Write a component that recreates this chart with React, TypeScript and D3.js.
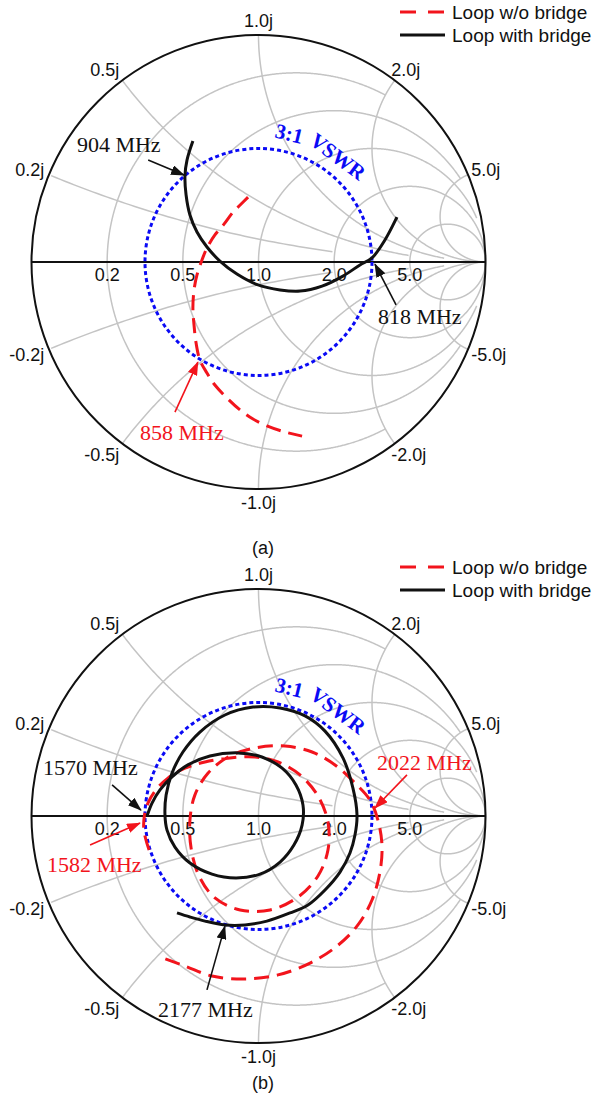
import React from "react";
import * as d3 from "d3";

type Pt = [number, number];

// Smith grid values and where each circle / arc stops
const gridValues = [0.2, 0.5, 1, 2, 5];
const gridLimits = [2, 5, 10, Infinity, Infinity];
const realLabels = ["0.2", "0.5", "1.0", "2.0", "5.0"];
const posImagLabels = ["0.2j", "0.5j", "1.0j", "2.0j", "5.0j"];
const negImagLabels = ["-0.2j", "-0.5j", "-1.0j", "-2.0j", "-5.0j"];
const legendNames = ["Loop w/o bridge", "Loop with bridge"];
const vswr = 3;
const vswrWords = [`${vswr}:1`, "VSWR"];

// traces as reflection coefficient [re, im]
const noBridgeA: Pt[] = [
  [-0.046, 0.286], [-0.081, 0.251], [-0.112, 0.22], [-0.152, 0.167], [-0.192, 0.119],
  [-0.227, 0.062], [-0.249, 0.009], [-0.271, -0.057], [-0.284, -0.123], [-0.289, -0.203],
  [-0.284, -0.278], [-0.275, -0.357], [-0.258, -0.432], [-0.227, -0.489], [-0.192, -0.542],
  [-0.139, -0.599], [-0.081, -0.652], [-0.024, -0.692], [0.037, -0.722], [0.117, -0.749],
  [0.192, -0.767],
];
const bridgeA: Pt[] = [
  [-0.289, 0.533], [-0.315, 0.449], [-0.324, 0.379], [-0.319, 0.295], [-0.302, 0.207],
  [-0.271, 0.132], [-0.227, 0.066], [-0.17, 0.004], [-0.095, -0.053], [-0.002, -0.101],
  [0.095, -0.123], [0.183, -0.128], [0.28, -0.106], [0.372, -0.062], [0.447, -0.013],
  [0.5, 0.018], [0.557, 0.097], [0.61, 0.198],
];
const noBridgeB: Pt[] = [
  [-0.482, -0.15], [-0.504, -0.07], [-0.504, -0.009], [-0.487, 0.057], [-0.452, 0.115],
  [-0.399, 0.167], [-0.324, 0.211], [-0.236, 0.238], [-0.126, 0.256], [-0.015, 0.26],
  [0.086, 0.238], [0.183, 0.181], [0.262, 0.088], [0.306, -0.026], [0.306, -0.15],
  [0.262, -0.264], [0.174, -0.357], [0.051, -0.414], [-0.081, -0.414], [-0.192, -0.361],
  [-0.262, -0.264], [-0.297, -0.141], [-0.302, -0.018], [-0.28, 0.093], [-0.222, 0.189],
  [-0.134, 0.26], [-0.015, 0.3], [0.117, 0.308], [0.236, 0.282], [0.337, 0.225],
  [0.425, 0.145], [0.491, 0.07], [0.526, -0.018], [0.544, -0.128], [0.535, -0.247],
  [0.5, -0.37], [0.438, -0.48], [0.346, -0.573], [0.227, -0.648], [0.086, -0.7],
  [-0.059, -0.718], [-0.205, -0.705], [-0.324, -0.661], [-0.434, -0.621],
];
const bridgeB: Pt[] = [
  [-0.491, 0], [-0.469, 0.057], [-0.434, 0.115], [-0.381, 0.172], [-0.311, 0.225],
  [-0.214, 0.264], [-0.09, 0.278], [0.015, 0.26], [0.104, 0.211], [0.165, 0.137],
  [0.196, 0.048], [0.192, -0.04], [0.156, -0.128], [0.095, -0.203], [0.007, -0.256],
  [-0.099, -0.273], [-0.205, -0.256], [-0.302, -0.207], [-0.368, -0.137], [-0.403, -0.062],
  [-0.412, 0.004], [-0.407, 0.093], [-0.381, 0.189], [-0.333, 0.282], [-0.258, 0.37],
  [-0.148, 0.445], [-0.024, 0.48], [0.095, 0.476], [0.205, 0.441], [0.293, 0.374],
  [0.372, 0.256], [0.416, 0.123], [0.434, 0.004], [0.425, -0.084], [0.403, -0.163],
  [0.359, -0.247], [0.293, -0.326], [0.218, -0.392], [0.139, -0.427], [0.037, -0.463],
  [-0.059, -0.48], [-0.148, -0.48], [-0.236, -0.463], [-0.302, -0.445], [-0.359, -0.427],
];

const RED = "#f2141c";
const BLUE = "#0a0af5";

type Marker = { label: string; color: string; text: Pt; from: Pt; tip: Pt };

const markersA: Marker[] = [
  { label: "904 MHz", color: "#111", text: [-0.8, 0.485], from: [-0.486, 0.449], tip: [-0.328, 0.383] },
  { label: "818 MHz", color: "#111", text: [0.526, -0.273], from: [0.606, -0.189], tip: [0.513, -0.009] },
  { label: "858 MHz", color: RED, text: [-0.522, -0.784], from: [-0.368, -0.661], tip: [-0.267, -0.441] },
];
const markersB: Marker[] = [
  { label: "1570 MHz", color: "#111", text: [-0.949, 0.181], from: [-0.645, 0.137], tip: [-0.518, 0.026] },
  { label: "1582 MHz", color: RED, text: [-0.932, -0.247], from: [-0.742, -0.128], tip: [-0.522, -0.031] },
  { label: "2022 MHz", color: RED, text: [0.522, 0.203], from: [0.654, 0.181], tip: [0.513, 0.035] },
  { label: "2177 MHz", color: "#111", text: [-0.443, -0.885], from: [-0.227, -0.766], tip: [-0.148, -0.485] },
];

const SANS = "'Liberation Sans', Arial, sans-serif";
const SERIF = "'Liberation Serif', 'Times New Roman', serif";

// sample a constant-r circle or constant-x arc, keeping only the drawn part
function gridPoints(kind: "r" | "x", v: number, limit: number): (Pt | null)[] {
  const out: (Pt | null)[] = [];
  const N = 1440;
  for (let i = 0; i <= N; i++) {
    const t = (i / N) * 2 * Math.PI;
    let gr: number, gi: number;
    if (kind === "r") {
      const rad = 1 / (1 + v);
      gr = v / (1 + v) + rad * Math.cos(t);
      gi = rad * Math.sin(t);
    } else {
      const rad = Math.abs(1 / v);
      gr = 1 + rad * Math.cos(t);
      gi = 1 / v + rad * Math.sin(t);
    }
    const den = (1 - gr) * (1 - gr) + gi * gi;
    const zr = (1 - gr * gr - gi * gi) / den;
    const zi = (2 * gi) / den;
    const inside = gr * gr + gi * gi <= 1 + 1e-9 && den > 1e-9;
    const ok = kind === "r" ? Math.abs(zi) <= limit : zr <= limit;
    out.push(inside && ok ? [gr, gi] : null);
  }
  return out;
}

function SmithPanel({ id, cy, noBridge, bridge, markers, legendY, caption, captionY }: {
  id: string; cy: number; noBridge: Pt[]; bridge: Pt[]; markers: Marker[];
  legendY: number; caption: string; captionY: number;
}) {
  const cx = 258.5;
  const R = 227;
  const sx = d3.scaleLinear().domain([-1, 1]).range([cx - R, cx + R]);
  const sy = d3.scaleLinear().domain([-1, 1]).range([cy + R, cy - R]);

  const gridLine = d3.line<Pt | null>()
    .defined((d) => d !== null)
    .x((d) => sx((d as Pt)[0]))
    .y((d) => sy((d as Pt)[1]));
  const trace = d3.line<Pt>()
    .x((d) => sx(d[0]))
    .y((d) => sy(d[1]))
    .curve(d3.curveCatmullRom.alpha(0.5));

  const gamma = (vswr - 1) / (vswr + 1);

  // "3:1 VSWR" set along an arc just outside the VSWR circle
  const labRad = gamma * 1.1;
  const labFs = 21;
  const labAngles = [76.5, 53];

  const fs = 18;
  const imagLabel = (x: number, text: string) => {
    const c = (x * x - 1) / (x * x + 1);
    const s = (2 * x) / (x * x + 1);
    let px = cx + (R + 5) * c;
    const py = cy - (R + 5) * s;
    const anchor = c < -0.2 ? "end" : c > 0.2 ? "start" : "middle";
    if (anchor === "start") px -= 10 * s * s;
    return (
      <text key={text} x={px} y={py - s * 9 + 0.35 * fs} textAnchor={anchor}
        fontFamily={SANS} fontSize={fs} fill="#111">{text}</text>
    );
  };

  return (
    <g>
      <defs>
        {["#111", RED].map((col, i) => (
          <marker key={col} id={`${id}-arrow${i}`} markerUnits="userSpaceOnUse"
            markerWidth={14} markerHeight={10} refX={13} refY={5} orient="auto">
            <path d="M0,0 L14,5 L0,10 Z" fill={col} />
          </marker>
        ))}
      </defs>

      {gridValues.map((v, i) => (
        <g key={v} fill="none" stroke="#c4c4c4" strokeWidth={1.5}>
          <path d={gridLine(gridPoints("r", v, gridLimits[i])) || ""} />
          <path d={gridLine(gridPoints("x", v, gridLimits[i])) || ""} />
          <path d={gridLine(gridPoints("x", -v, gridLimits[i])) || ""} />
        </g>
      ))}

      <circle cx={cx} cy={cy} r={R} fill="none" stroke="#111" strokeWidth={2} />
      <line x1={sx(-1)} x2={sx(1)} y1={sy(0)} y2={sy(0)} stroke="#111" strokeWidth={2} />

      {gridValues.map((v, i) => (
        <text key={v} x={sx((v - 1) / (v + 1))} y={cy + 19} textAnchor="middle"
          fontFamily={SANS} fontSize={fs} fill="#111">{realLabels[i]}</text>
      ))}
      {gridValues.map((v, i) => imagLabel(v, posImagLabels[i]))}
      {gridValues.map((v, i) => imagLabel(-v, negImagLabels[i]))}

      <circle cx={cx} cy={cy} r={gamma * R} fill="none" stroke={BLUE} strokeWidth={3} strokeDasharray="4,3" />
      {vswrWords.map((w, i) => {
        const th = (labAngles[i] * Math.PI) / 180;
        const x = sx(labRad * Math.cos(th));
        const y = sy(labRad * Math.sin(th));
        return (
          <text key={w} x={x} y={y} textAnchor="middle" transform={`rotate(${90 - labAngles[i]},${x},${y})`}
            fontFamily={SERIF} fontWeight="bold" fontSize={labFs} fill={BLUE}>{w}</text>
        );
      })}

      <path d={trace(noBridge) || ""} fill="none" stroke={RED} strokeWidth={3} strokeDasharray="15,8" />
      <path d={trace(bridge) || ""} fill="none" stroke="#111" strokeWidth={3} />

      {markers.map((m) => (
        <g key={m.label}>
          <line x1={sx(m.from[0])} y1={sy(m.from[1])} x2={sx(m.tip[0])} y2={sy(m.tip[1])}
            stroke={m.color} strokeWidth={1.6} markerEnd={`url(#${id}-arrow${m.color === RED ? 1 : 0})`} />
          <text x={sx(m.text[0])} y={sy(m.text[1])} fontFamily={SERIF} fontSize={22} fill={m.color}>{m.label}</text>
        </g>
      ))}

      <g fontFamily={SANS} fontSize={19} fill="#111">
        <line x1={400} x2={445} y1={legendY} y2={legendY} stroke={RED} strokeWidth={3} strokeDasharray="16,12" />
        <text x={452} y={legendY + 7}>{legendNames[0]}</text>
        <line x1={400} x2={445} y1={legendY + 23} y2={legendY + 23} stroke="#111" strokeWidth={3} />
        <text x={452} y={legendY + 30}>{legendNames[1]}</text>
      </g>

      <text x={263} y={captionY} textAnchor="middle" fontFamily={SANS} fontSize={18} fill="#111">{caption}</text>
    </g>
  );
}

export default function App() {
  return (
    <svg width={593} height={1097} style={{ position: "absolute", left: 0, top: 0, background: "#fff" }}>
      <rect width={593} height={1097} fill="#fff" />
      <SmithPanel id="a" cy={262} noBridge={noBridgeA} bridge={bridgeA} markers={markersA}
        legendY={12} caption="(a)" captionY={554} />
      <SmithPanel id="b" cy={816} noBridge={noBridgeB} bridge={bridgeB} markers={markersB}
        legendY={567} caption="(b)" captionY={1089} />
    </svg>
  );
}
